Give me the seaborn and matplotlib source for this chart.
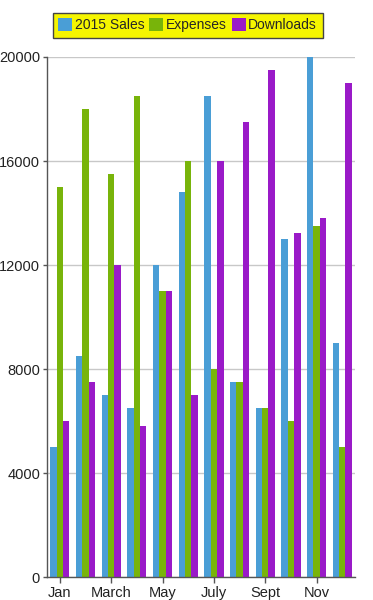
import numpy as np
import pandas as pd
import matplotlib
matplotlib.use("Agg")
import matplotlib.pyplot as plt
import seaborn as sns

months = ["Jan", "Feb", "March", "April", "May", "June",
          "July", "Aug", "Sept", "Oct", "Nov", "Dec"]
sales = [5000, 8500, 7000, 6500, 12000, 14800, 18500, 7500, 6500, 13000, 20000, 9000]
expenses = [15000, 18000, 15500, 18500, 11000, 16000, 8000, 7500, 6500, 6000, 13500, 5000]
downloads = [6000, 7500, 12000, 5800, 11000, 7000, 16000, 17500, 19500, 13250, 13800, 19000]
series = ["2015 Sales", "Expenses", "Downloads"]
colors = ["#4a9ed6", "#78b40a", "#9a1ac8"]

df = pd.DataFrame({"month": months, series[0]: sales,
                   series[1]: expenses, series[2]: downloads})
long = df.melt(id_vars="month", var_name="series", value_name="value")

sns.set_theme(style="white")
plt.rcParams["font.family"] = ["Liberation Sans", "DejaVu Sans"]

fig = plt.figure(figsize=(3.73, 6.0), dpi=100)
ax = fig.add_axes([0.126, 0.038, 0.826, 0.867])

sns.barplot(data=long, x="month", y="value", hue="series", hue_order=series,
            palette=colors, width=0.75, saturation=1, linewidth=0,
            edgecolor="none", ax=ax, legend=True)

ax.set_ylim(0, 20000)
ax.set_yticks(range(0, 20001, 4000))
ax.set_yticklabels([str(v) for v in range(0, 20001, 4000)], fontsize=10.5, color="#222222")
ax.set_xticks(range(0, 12, 2))
ax.set_xticklabels(months[::2], fontsize=10.5, color="#222222")
ax.set_xlabel("")
ax.set_ylabel("")
ax.grid(axis="y", color="#c8c8c8", linewidth=1)
ax.set_axisbelow(True)
for s in ["top", "right"]:
    ax.spines[s].set_visible(False)
for s in ["left", "bottom"]:
    ax.spines[s].set_color("#555555")
    ax.spines[s].set_linewidth(1)
ax.tick_params(axis="y", left=True, length=3, width=1, color="#555555", pad=2)
ax.tick_params(axis="x", bottom=True, length=4, width=1, color="#555555", pad=2)

handles, labels = ax.get_legend_handles_labels()
ax.legend(handles, labels, loc="center", bbox_to_anchor=(0.503, 0.958),
          bbox_transform=fig.transFigure, ncol=3, frameon=True,
          facecolor="#f5f500", edgecolor="#444444", fancybox=False,
          framealpha=1, fontsize=10, handlelength=1.0, handleheight=1.0,
          handletextpad=0.2, columnspacing=0.35, borderpad=0.4,
          borderaxespad=0)
ax.get_legend().get_frame().set_linewidth(1)

fig.savefig("out.png", dpi=100)
